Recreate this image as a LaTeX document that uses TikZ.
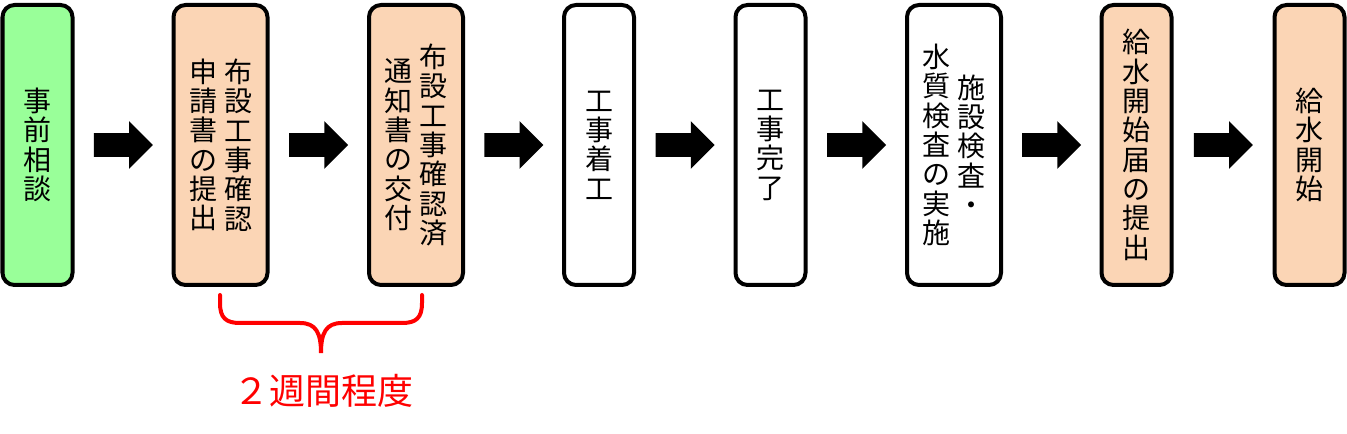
\documentclass[tikz,border=0pt]{standalone}
\usepackage{fontspec}
\usepackage{tikz}
\usetikzlibrary{shapes.arrows,calc}
\newfontfamily\jpfont{Noto Sans CJK JP}
\definecolor{soudan}{RGB}{153,255,153}
\definecolor{shinsei}{RGB}{251,213,181}

\begin{document}
\begin{tikzpicture}[x=0.75pt,y=0.75pt,yscale=-1,xscale=1,
		stepbox/.style={draw=black, line width=3pt, rounded corners=9pt, minimum height=210pt, inner sep=0pt},
		narrow/.style={stepbox, minimum width=52.5pt},
		wide/.style={stepbox, minimum width=70.5pt},
		tate/.style={font=\jpfont\fontsize{21}{22}\selectfont, align=center, inner sep=0pt},
		blockarrow/.style={single arrow, fill=black, draw=none, anchor=tail, minimum height=44.25pt, minimum width=35.25pt, single arrow head extend=9pt, inner xsep=0pt, inner ysep=8.625pt}]
		\useasboundingbox (0,0) rectangle (1347,434);
		
		%Shape: steps
		\node [narrow, fill=soudan] (b1) at (37.5,145) {};
		\node [wide, fill=shinsei] (b2) at (220.5,145) {};
		\node [wide, fill=shinsei] (b3) at (416,145) {};
		\node [narrow, fill=white] (b4) at (599,145) {};
		\node [narrow, fill=white] (b5) at (770.5,145) {};
		\node [wide, fill=white] (b6) at (954,145) {};
		\node [narrow, fill=shinsei] (b7) at (1136.5,145) {};
		\node [narrow, fill=shinsei] (b8) at (1309.5,145) {};
		
		% Text Node
		\node [tate] (t1) at (b1) {事\\前\\相\\談};
		\node [tate] (t2r) at ($(b2)+(17.5,0)$) {布\\設\\工\\事\\確\\認};
		\node [tate] (t2l) at ($(b2)+(-17.5,0)$) {申\\請\\書\\の\\提\\出};
		\node [tate] (t3r) at ($(b3)+(17.5,0)$) {布\\設\\工\\事\\確\\認\\済};
		\node [tate] (t3l) at ($(b3)+(-17.5,0)$) {通\\知\\書\\の\\交\\付};
		\node [tate] (t4) at (b4) {工\\事\\着\\工};
		\node [tate] (t5) at (b5) {工\\事\\完\\了};
		\node [tate] (t6r) at ($(b6)+(17.5,0)$) {施\\設\\検\\査\\・};
		\node [tate] (t6l) at ($(b6)+(-17.5,0)$) {水\\質\\検\\査\\の\\実\\施};
		\node [tate] (t7) at (b7) {給\\水\\開\\始\\届\\の\\提\\出};
		\node [tate] (t8) at (b8) {給\\水\\開\\始};
		
		%Block arrows
		\node [blockarrow] (a1) at ($(b1.east)!0.5!(b2.west)+(-29.5,0)$) {};
		\node [blockarrow] (a2) at ($(b2.east)!0.5!(b3.west)+(-29.5,0)$) {};
		\node [blockarrow] (a3) at ($(b3.east)!0.5!(b4.west)+(-29.5,0)$) {};
		\node [blockarrow] (a4) at ($(b4.east)!0.5!(b5.west)+(-29.5,0)$) {};
		\node [blockarrow] (a5) at ($(b5.east)!0.5!(b6.west)+(-29.5,0)$) {};
		\node [blockarrow] (a6) at ($(b6.east)!0.5!(b7.west)+(-29.5,0)$) {};
		\node [blockarrow] (a7) at ($(b7.east)!0.5!(b8.west)+(-29.5,0)$) {};
		
		%Brace
		\draw [red, line width=3pt, line cap=round] (220,295) -- (220,303) .. controls (220,318) and (226,323) .. (240,323) -- (300,323) .. controls (316,323) and (321,333) .. (321,353) .. controls (321,333) and (326,323) .. (342,323) -- (402,323) .. controls (416,323) and (422,318) .. (422,303) -- (422,295);
		
		% Text Node
		\node [font=\jpfont\fontsize{27}{30}\selectfont, text=red, inner sep=0pt] (period) at (323,391) {２週間程度};
	\end{tikzpicture}
\end{document}
